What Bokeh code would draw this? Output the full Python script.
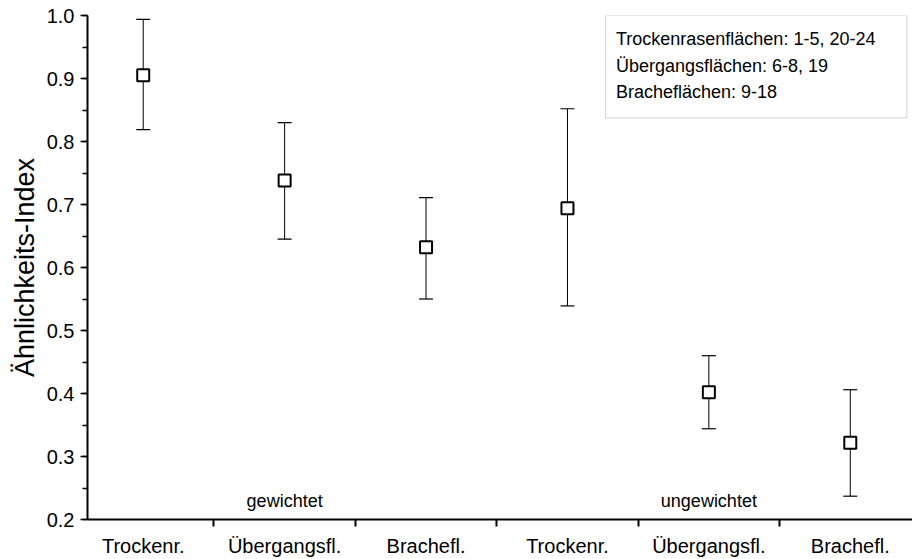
from bokeh.plotting import figure
from bokeh.models import (Range1d, FixedTicker, SingleIntervalTicker, PrintfTickFormatter,
                          ColumnDataSource, Whisker, TeeHead, BoxAnnotation, Label)
from bokeh.embed import file_html
from bokeh.resources import INLINE

# ---- data ----
categories = ["Trockenr.", "Übergangsfl.", "Brachefl.", "Trockenr.", "Übergangsfl.", "Brachefl."]
means = [0.905, 0.738, 0.632, 0.694, 0.402, 0.322]
upper = [0.994, 0.830, 0.711, 0.852, 0.460, 0.406]
lower = [0.819, 0.645, 0.550, 0.539, 0.344, 0.237]
group_labels = ["gewichtet", "ungewichtet"]
legend_lines = ["Trockenrasenflächen: 1-5, 20-24", "Übergangsflächen: 6-8, 19", "Bracheflächen: 9-18"]
y_label = "Ähnlichkeits-Index"

FONT = "Liberation Sans"

xs = [i + 0.5 for i in range(len(categories))]
src = ColumnDataSource(dict(x=xs, y=means, up=upper, lo=lower))

p = figure(width=912, height=559, output_backend="svg", toolbar_location=None,
           x_range=Range1d(0.106, 5.94), y_range=Range1d(0.2, 1.0),
           min_border_left=87, min_border_right=0, min_border_top=15, min_border_bottom=20)
p.outline_line_color = None
p.grid.visible = False
p.background_fill_color = "white"
p.border_fill_color = "white"

# y axis
ya = p.yaxis[0]
ya.ticker = SingleIntervalTicker(interval=0.1, num_minor_ticks=2)
ya.formatter = PrintfTickFormatter(format="%.1f")
ya.axis_label = y_label
ya.axis_label_text_font = FONT
ya.axis_label_text_font_style = "normal"
ya.axis_label_text_font_size = "27px"
ya.axis_label_text_color = "black"
ya.axis_label_standoff = 4
ya.major_label_text_font = FONT
ya.major_label_text_font_size = "20px"
ya.major_label_text_color = "black"
ya.major_label_standoff = 6
ya.major_tick_in = 0
ya.major_tick_out = 7
ya.minor_tick_in = 0
ya.minor_tick_out = 5
ya.axis_line_width = 2
ya.major_tick_line_width = 1.5
ya.minor_tick_line_width = 1.5

# x axis
xa = p.xaxis[0]
xa.ticker = FixedTicker(ticks=xs, minor_ticks=[1, 2, 3, 4, 5])
xa.major_label_overrides = {x: c for x, c in zip(xs, categories)}
xa.major_label_text_font = FONT
xa.major_label_text_font_size = "20px"
xa.major_label_text_color = "black"
xa.major_label_standoff = 8
xa.major_tick_in = 0
xa.major_tick_out = 0
xa.minor_tick_in = 0
xa.minor_tick_out = 7
xa.minor_tick_line_width = 2
xa.axis_line_width = 2

# error bars
w = Whisker(source=src, base="x", upper="up", lower="lo", dimension="height",
            line_color="black", line_width=1,
            upper_head=TeeHead(size=14, line_color="black", line_width=1.2),
            lower_head=TeeHead(size=14, line_color="black", line_width=1.2))
p.add_layout(w)

p.scatter("x", "y", source=src, marker="square", size=12, fill_color="white",
          line_color="black", line_width=2)

# group labels
for gx, txt in zip([1.5, 4.5], group_labels):
    p.add_layout(Label(x=gx, y=0.23, text=txt, text_font=FONT, text_font_size="18px",
                       text_align="center", text_baseline="alphabetic", text_color="black"))

# legend box
p.add_layout(BoxAnnotation(left=3.77, right=5.90, top=1.0, bottom=0.8375,
                           fill_color=None, line_color="#666666", line_width=1))
for ly, txt in zip([0.962, 0.9196, 0.8786], legend_lines):
    p.add_layout(Label(x=3.843, y=ly, text=txt, text_font=FONT, text_font_size="18px",
                       text_align="left", text_baseline="middle", text_color="black"))

open("out.html", "w").write(file_html(p, INLINE))
